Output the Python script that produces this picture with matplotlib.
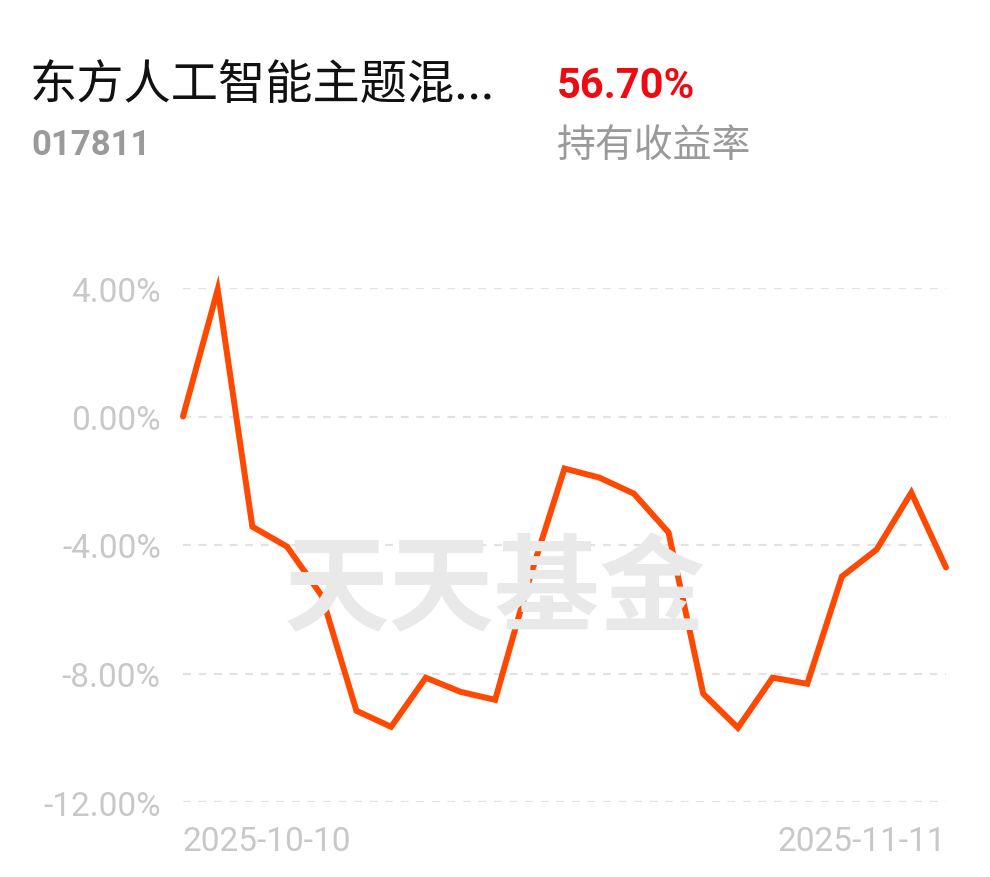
import matplotlib.pyplot as plt
import numpy as np

plt.rcParams['font.family'] = ['Noto Sans CJK SC', 'DejaVu Sans']

# holding return (%) per trading day
returns = [0.00, 3.95, -3.43, -4.05, -5.58, -9.16, -9.66, -8.13, -8.57, -8.82,
           -5.02, -1.62, -1.90, -2.40, -3.61, -8.63, -9.69, -8.13, -8.32, -4.98,
           -4.14, -2.37, -4.70]
y_ticks = [4, 0, -4, -8, -12]
y_tick_labels = ['4.00%', '0.00%', '-4.00%', '-8.00%', '-12.00%']
start_date = '2025-10-10'
end_date = '2025-11-11'

fund_name = '东方人工智能主题混...'
fund_code = '017811'
total_return = '56.70%'
return_label = '持有收益率'

W, H = 990, 878
fig = plt.figure(figsize=(W / 100, H / 100), dpi=100)
fig.patch.set_facecolor('white')

x = np.arange(len(returns))
ax = fig.add_axes([183 / W, 1 - 803 / H, (946 - 183) / W, (803 - 289) / H])
ax.set_xlim(0, len(returns) - 1)
ax.set_ylim(-12, 4)

for t in y_ticks:
    ax.axhline(t, color='#e2e2e2', lw=1.6, ls=(0, (3.5, 3.5)), zorder=1)

ax.plot(x, returns, color='#ff4800', lw=4.3, solid_joinstyle='miter',
        solid_capstyle='round', clip_on=False, zorder=3)

ax.set_yticks(y_ticks)
ax.set_yticklabels(y_tick_labels, family='Roboto', fontsize=24, color='#c8c8c8')
ax.tick_params(axis='y', length=0, pad=16)
ax.set_xticks([])
for s in ax.spines.values():
    s.set_visible(False)

# watermark
fig.text(495 / W, 1 - 592 / H, '天天基金', fontsize=76, fontweight='bold',
         color='#e9e9e9', ha='center', va='center', zorder=0)

ax.text(0, -13.2, start_date, family='Roboto', fontsize=24, color='#c8c8c8',
        ha='left', va='center')
ax.text(len(returns) - 1, -13.2, end_date, family='Roboto', fontsize=24,
        color='#c8c8c8', ha='right', va='center')

# header
fig.text(30 / W, 1 - 86 / H, fund_name, fontsize=34, color='#111111',
         ha='left', va='center')
fig.text(31 / W, 1 - 146 / H, fund_code, family='Roboto', fontsize=25,
         fontweight='bold', color='#9a9a9a', ha='left', va='center')
fig.text(557 / W, 1 - 86 / H, total_return, family='Roboto', fontsize=30,
         fontweight='bold', color='#ee0a10', ha='left', va='center')
fig.text(557 / W, 1 - 146 / H, return_label, fontsize=28, color='#9a9a9a',
         ha='left', va='center')

fig.savefig('out.png', dpi=100, facecolor='white')
